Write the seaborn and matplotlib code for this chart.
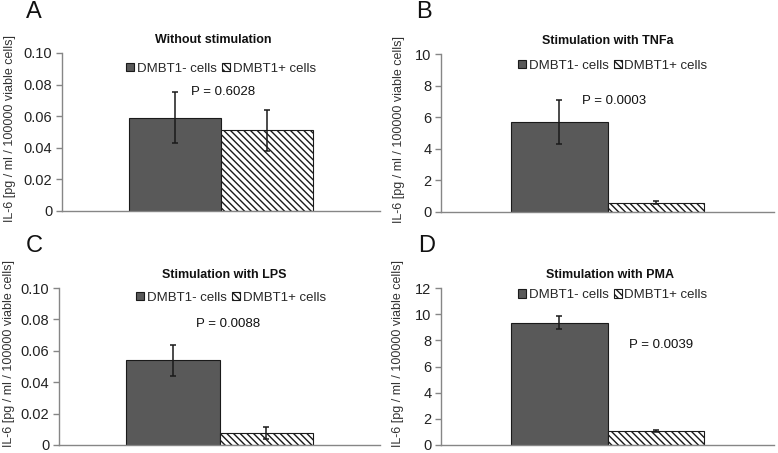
import matplotlib
matplotlib.use("Agg")
import matplotlib.pyplot as plt
import seaborn as sns
import pandas as pd

groups = ["DMBT1- cells", "DMBT1+ cells"]
panel_letters = ["A", "B", "C", "D"]
titles = ["Without stimulation", "Stimulation with TNFa",
          "Stimulation with LPS", "Stimulation with PMA"]
means_A = [0.059, 0.051]
errs_A = [0.016, 0.013]
means_B = [5.7, 0.6]
errs_B = [1.42, 0.12]
means_C = [0.054, 0.0075]
errs_C = [0.010, 0.0037]
means_D = [9.35, 1.05]
errs_D = [0.52, 0.06]
p_values = ["P = 0.6028", "P = 0.0003", "P = 0.0088", "P = 0.0039"]
ymax = [0.10, 10, 0.10, 12]
ystep = [0.02, 2, 0.02, 2]
tick_fmt = [lambda v: "0" if v == 0 else f"{v:.2f}",
            lambda v: f"{v:g}",
            lambda v: "0" if v == 0 else f"{v:.2f}",
            lambda v: f"{v:g}"]

sns.set_theme(style="white")
plt.rcParams['font.family'] = ['Liberation Sans', 'DejaVu Sans']
plt.rcParams['hatch.linewidth'] = 1.0

fig = plt.figure(figsize=(7.78, 4.53), dpi=100)
W, H = 778, 453
# axes boxes in pixels: left, top, right, bottom
boxes = [(62, 53, 380, 211), (441, 54, 774, 212),
         (59, 288, 380, 445), (441, 288, 774, 445)]
legend_pos = [(0.50, 0.90), (0.516, 0.925), (0.536, 0.937), (0.516, 0.955)]
p_pos = [(0.506, 0.753), (0.52, 0.70), (0.527, 0.772), (0.66, 0.64)]
title_x = [0.475, 0.50, 0.514, 0.508]
label_off = [46, 36, 44, 37]
label_y = [0.52, 0.52, 0.585, 0.585]
letter_pos = [(26, 18), (416, 18), (26, 252), (418, 252)]

all_means = [means_A, means_B, means_C, means_D]
all_errs = [errs_A, errs_B, errs_C, errs_D]
axis_gray = "#868686"

for i in range(4):
    l, t, r, b = boxes[i]
    ax = fig.add_axes([l / W, 1 - b / H, (r - l) / W, (b - t) / H])
    df = pd.DataFrame({"cond": [""] * 2, "group": groups, "value": all_means[i]})
    sns.barplot(data=df, x="cond", y="value", hue="group", hue_order=groups,
                palette=["#595959", "white"], width=0.58, ax=ax,
                edgecolor="#1a1a1a", linewidth=0.8, saturation=1, legend=False)
    bars = [p for p in ax.patches]
    bars[1].set_hatch("\\\\\\\\\\")
    for bar, m, e in zip(bars, all_means[i], all_errs[i]):
        cx = bar.get_x() + bar.get_width() / 2
        ax.errorbar([cx], [m], yerr=[e], fmt="none", ecolor="#1a1a1a",
                    elinewidth=1.1, capsize=2.5, capthick=1.1, zorder=5)
    ax.set_xlim(-0.5, 0.5)
    ax.set_ylim(0, ymax[i])
    ticks = [k * ystep[i] for k in range(int(round(ymax[i] / ystep[i])) + 1)]
    ax.set_yticks(ticks)
    ax.set_yticklabels([tick_fmt[i](v) for v in ticks], fontsize=10.5, color="#222222")
    ax.set_xticks([])
    ax.set_xlabel("")
    ax.set_ylabel("IL-6 [pg / ml / 100000 viable cells]", fontsize=9.0,
                  color="#333333", fontweight="normal")
    ax.yaxis.set_label_coords(-label_off[i] / (r - l), label_y[i], transform=ax.transAxes)
    for s in ["top", "right"]:
        ax.spines[s].set_visible(False)
    for s in ["left", "bottom"]:
        ax.spines[s].set_color(axis_gray)
        ax.spines[s].set_linewidth(1.0)
    ax.tick_params(axis="y", left=True, length=4, width=1, color=axis_gray, pad=3)
    ax.set_title(titles[i], fontsize=9, fontweight="bold", pad=7.5, color="#111111",
                 x=title_x[i])
    ax.legend(handles=bars, labels=groups, ncol=2, frameon=False,
              loc="center", bbox_to_anchor=legend_pos[i], fontsize=9.5,
              handlelength=0.6, handleheight=0.6, handletextpad=0.2,
              columnspacing=0.4, borderaxespad=0)
    ax.text(p_pos[i][0], p_pos[i][1], p_values[i], transform=ax.transAxes,
            ha="center", va="center", fontsize=9.5, color="#111111")
    fig.text(letter_pos[i][0] / W, 1 - letter_pos[i][1] / H, panel_letters[i],
             fontsize=17, ha="left", va="baseline", color="#111111")

fig.savefig("out.png", dpi=100)
